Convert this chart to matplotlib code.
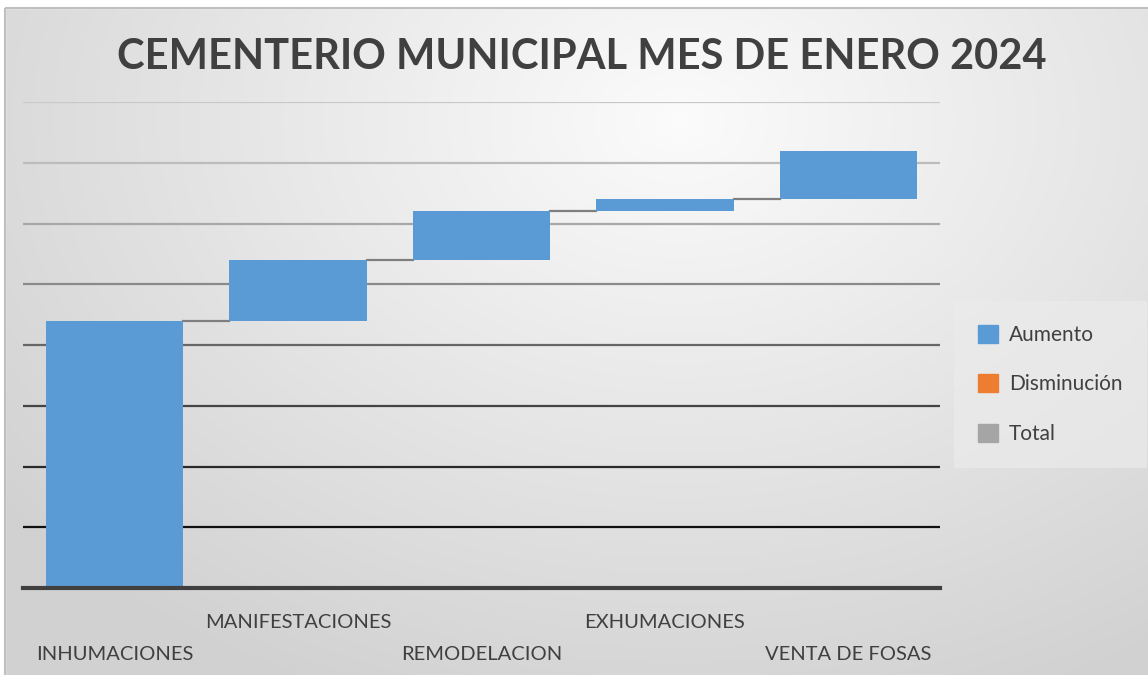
import numpy as np
import matplotlib
matplotlib.use("Agg")
import matplotlib.pyplot as plt
from matplotlib.patches import Patch, Rectangle

plt.rcParams['font.family'] = ['Lato', 'DejaVu Sans']

categories = ['INHUMACIONES', 'MANIFESTACIONES', 'REMODELACION', 'EXHUMACIONES', 'VENTA DE FOSAS']
values = [44, 10, 8, 2, 8]
grid_levels = [10, 20, 30, 40, 50, 60, 70, 80]
legend_labels = ['Aumento', 'Disminución', 'Total']

c_up = '#5B9BD5'
c_down = '#ED7D31'
c_total = '#A5A5A5'
txt = '#404040'

W, H = 1148, 675
fig = plt.figure(figsize=(W / 100, H / 100), dpi=100)

# background gradient
bg = fig.add_axes([0, 0, 1, 1], zorder=-5)
yy, xx = np.mgrid[0:H, 0:W]
d = np.sqrt(((xx - 680) / 900.0) ** 2 + ((yy - 120) / 650.0) ** 2)
g = np.clip(0.985 - 0.17 * d, 0.82, 0.985)
bg.imshow(np.dstack([g, g, g]), extent=[0, W, H, 0], aspect='auto')
bg.add_patch(Rectangle((0, 0), W, 8, color='white'))
bg.add_patch(Rectangle((0, 0), 5, H, color='white'))
bg.add_patch(Rectangle((5, 8), W, H, fill=False, ec='#bfbfbf', lw=1.5))
bg.set_xlim(0, W)
bg.set_ylim(H, 0)
bg.axis('off')

ax = fig.add_axes([23 / W, 1 - 588 / H, (940 - 23) / W, (588 - 102) / H])
ax.patch.set_alpha(0)

x = np.arange(len(values))
bottoms = np.concatenate([[0], np.cumsum(values)[:-1]])
tops = bottoms + np.array(values)
bw = 0.75
ax.bar(x, values, bottom=bottoms, width=bw, color=c_up, zorder=3)

# connectors
for i in range(len(values) - 1):
    ax.plot([x[i] + bw / 2, x[i + 1] - bw / 2], [tops[i], tops[i]],
            color='#7f7f7f', lw=1.6, zorder=2)

# gridlines darkening toward the bottom
gcols = ['#101010', '#2a2a2a', '#444444', '#666666', '#8a8a8a', '#a8a8a8', '#bcbcbc', '#c8c8c8']
for lv, gc in zip(grid_levels, gcols):
    ax.axhline(lv, color=gc, lw=1.6, zorder=1)
ax.axhline(0, color='#404040', lw=3, zorder=4, clip_on=False)

ax.set_xlim(-0.5, len(values) - 0.5)
ax.set_ylim(0, 80)
ax.set_yticks([])
for s in ax.spines.values():
    s.set_visible(False)
ax.set_xticks(x)
ax.set_xticklabels(categories, fontsize=14.5, color=txt)
ax.tick_params(axis='x', length=0)
for i, t in enumerate(ax.xaxis.get_major_ticks()):
    t.set_pad(41.5 if i % 2 == 0 else 19)

fig.text(582 / W, 1 - 57 / H, 'CEMENTERIO MUNICIPAL MES DE ENERO 2024',
         fontsize=30, fontweight='bold', color=txt, ha='center', va='center')

handles = [Patch(color=c) for c in (c_up, c_down, c_total)]
leg = fig.legend(handles, legend_labels, loc='upper left',
                 bbox_to_anchor=(954 / W, 1 - 301 / H), borderaxespad=0,
                 fontsize=15, labelspacing=1.4, handlelength=0.95, handleheight=0.95,
                 handletextpad=0.55, borderpad=1.15, frameon=True, fancybox=False)
leg.get_frame().set_facecolor('#ebebeb')
leg.get_frame().set_edgecolor('none')
leg.get_frame().set_alpha(0.7)
for t in leg.get_texts():
    t.set_color(txt)

fig.savefig('out.png', dpi=100)
